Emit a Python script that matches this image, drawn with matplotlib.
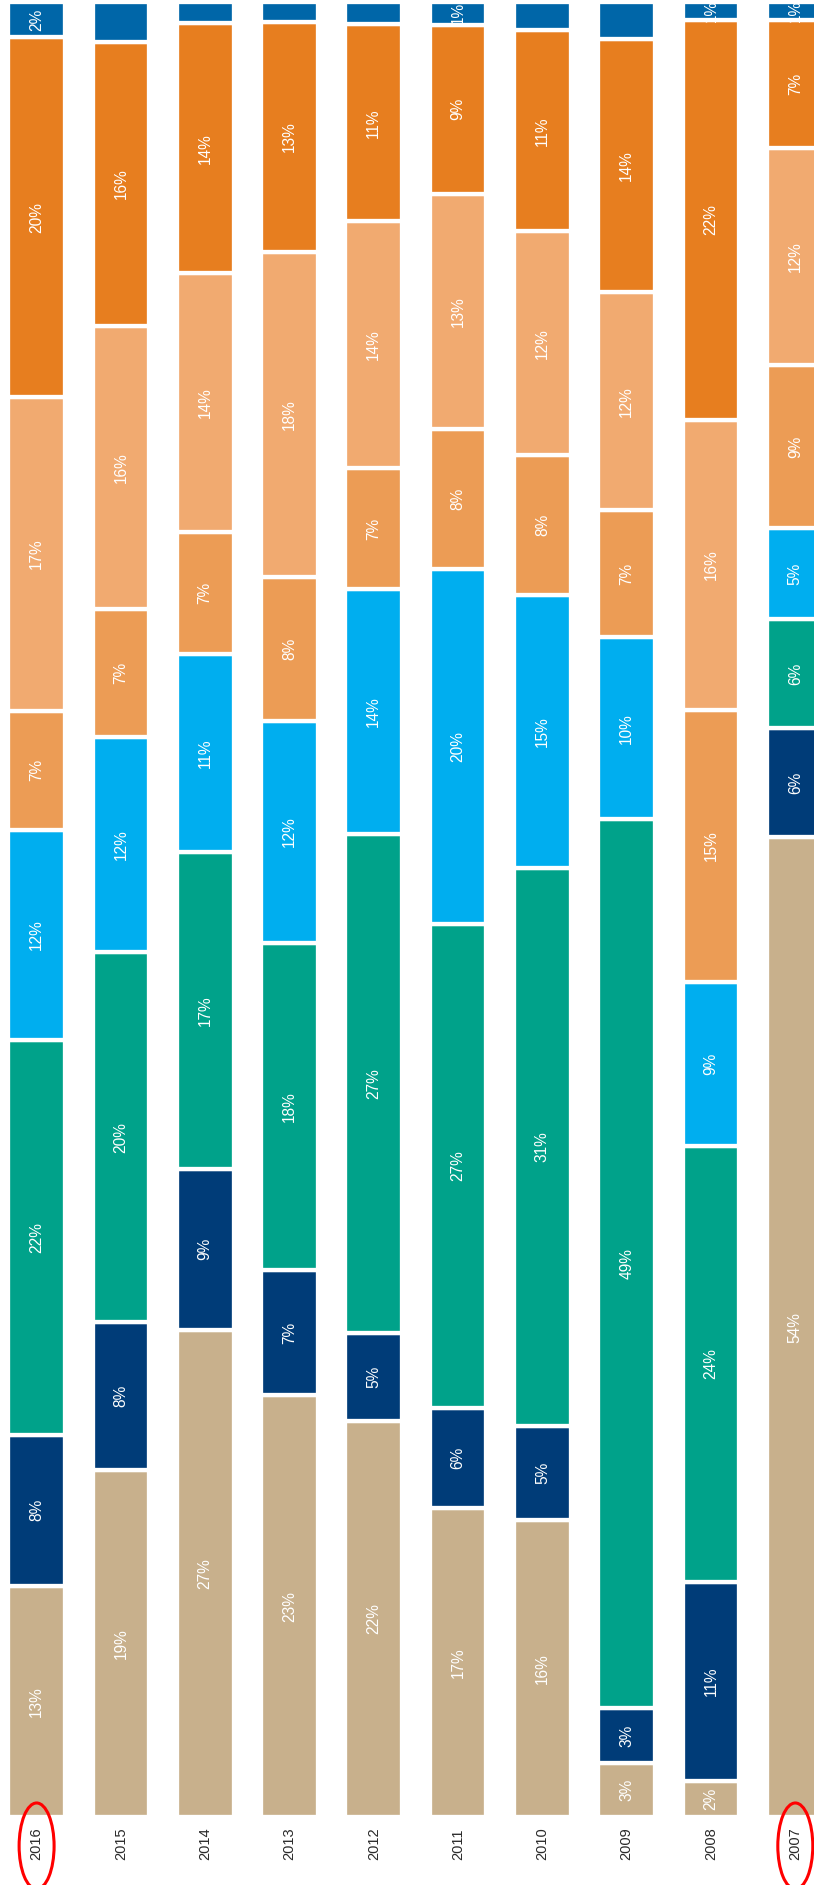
import matplotlib
matplotlib.use('Agg')
import matplotlib.pyplot as plt
from matplotlib.patches import Ellipse
import numpy as np

# ---- data (percent shares per year, bottom to top) ----
years = ['2016', '2015', '2014', '2013', '2012', '2011', '2010', '2009', '2008', '2007']
tan = [12.75, 19.11, 26.86, 23.25, 21.85, 17.01, 16.39, 2.99, 2.0, 53.99]
navy = [8.30, 8.14, 8.84, 6.89, 4.82, 5.55, 5.14, 3.0, 10.98, 5.99]
teal = [21.78, 20.39, 17.45, 18.02, 27.49, 26.63, 30.76, 49.0, 24.01, 6.0]
light_blue = [11.55, 11.85, 10.93, 12.25, 13.51, 19.56, 15.06, 10.0, 9.01, 5.01]
mid_orange = [6.58, 7.09, 6.71, 7.89, 6.63, 7.71, 7.66, 6.99, 14.99, 9.0]
light_orange = [17.26, 15.55, 14.25, 17.93, 13.61, 12.96, 12.34, 12.02, 15.99, 11.97]
dark_orange = [19.83, 15.67, 13.80, 12.64, 10.86, 9.33, 11.08, 13.98, 22.0, 7.02]
top_blue = [1.95, 2.2, 1.15, 1.12, 1.24, 1.25, 1.58, 2.02, 1.01, 1.01]
top_blue_labeled = [True, False, False, False, False, True, False, False, True, True]
highlighted = ['2016', '2007']

series = [tan, navy, teal, light_blue, mid_orange, light_orange, dark_orange, top_blue]
colors = ['#C8B08C', '#003C78', '#00A28A', '#00AEEF', '#EC9C55', '#F1AA70', '#E77E1F', '#0066A8']

W, H, DPI = 814, 1885, 100
fig = plt.figure(figsize=(W / DPI, H / DPI), dpi=DPI)
ax = fig.add_axes([0, 0, 1, 1])
ax.axis('off')

x = np.arange(len(years))
bottom = np.zeros(len(years))
for si, (vals, col) in enumerate(zip(series, colors)):
    h = np.array(vals, dtype=float)
    bars = ax.bar(x, h, bottom=bottom, width=0.6726, color=col,
                  edgecolor='white', linewidth=3.1)
    for i, b in enumerate(bars):
        show = top_blue_labeled[i] if si == len(series) - 1 else True
        if show:
            t = ax.text(x[i], bottom[i] + h[i] / 2, f'{h[i]:.0f}%', rotation=90,
                        ha='center', va='center', color='white', fontsize=11.2,
                        fontfamily='Liberation Sans', zorder=5)
            t.set_clip_path(b)
    bottom += h

ax.set_xlim(-0.4342, 9.2218)
ax.set_ylim(-3.738, 100.102)

ylab = -1.479
for i, yr in enumerate(years):
    ax.text(x[i], ylab, yr, rotation=90, ha='center', va='center', color='#2a2a2a',
            fontsize=10.5, fontfamily='Liberation Sans')
    if yr in highlighted:
        ax.add_patch(Ellipse((x[i], -1.59), 0.415, 4.74, fill=False,
                             edgecolor='#FF0000', linewidth=2.2, clip_on=False))

fig.savefig('out.png', dpi=DPI)
